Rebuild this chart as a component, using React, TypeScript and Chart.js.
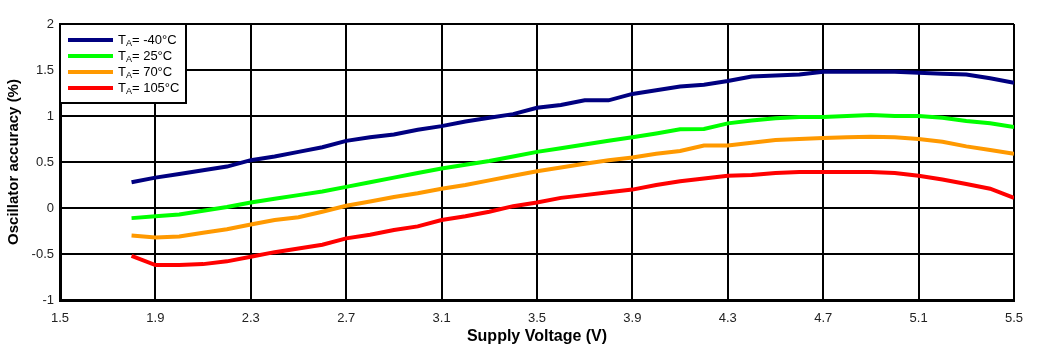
import React, { useEffect, useRef } from "react";
import { Chart, registerables } from "chart.js";
Chart.register(...registerables);

const voltages = [1.8, 1.9, 2.0, 2.1, 2.2, 2.3, 2.4, 2.5, 2.6, 2.7, 2.8, 2.9, 3.0, 3.1, 3.2, 3.3, 3.4, 3.5, 3.6, 3.7, 3.8, 3.9, 4.0, 4.1, 4.2, 4.3, 4.4, 4.5, 4.6, 4.7, 4.8, 4.9, 5.0, 5.1, 5.2, 5.3, 5.4, 5.5];
const accM40 = [0.28, 0.33, 0.37, 0.41, 0.45, 0.52, 0.56, 0.61, 0.66, 0.73, 0.77, 0.80, 0.85, 0.89, 0.94, 0.98, 1.02, 1.09, 1.12, 1.17, 1.17, 1.24, 1.28, 1.32, 1.34, 1.38, 1.43, 1.44, 1.45, 1.48, 1.48, 1.48, 1.48, 1.47, 1.46, 1.45, 1.41, 1.36];
const acc25 = [-0.11, -0.09, -0.07, -0.03, 0.01, 0.06, 0.10, 0.14, 0.18, 0.23, 0.28, 0.33, 0.38, 0.43, 0.47, 0.51, 0.56, 0.61, 0.65, 0.69, 0.73, 0.77, 0.81, 0.855, 0.86, 0.92, 0.95, 0.975, 0.99, 0.99, 1.00, 1.01, 1.00, 1.00, 0.98, 0.945, 0.92, 0.88];
const acc70 = [-0.30, -0.32, -0.31, -0.27, -0.23, -0.18, -0.13, -0.10, -0.04, 0.025, 0.07, 0.12, 0.16, 0.21, 0.25, 0.30, 0.35, 0.40, 0.44, 0.48, 0.52, 0.55, 0.59, 0.62, 0.68, 0.68, 0.71, 0.74, 0.75, 0.76, 0.77, 0.775, 0.77, 0.75, 0.72, 0.67, 0.63, 0.59];
const acc105 = [-0.52, -0.62, -0.62, -0.61, -0.58, -0.53, -0.48, -0.44, -0.40, -0.33, -0.29, -0.24, -0.20, -0.13, -0.09, -0.04, 0.02, 0.06, 0.11, 0.14, 0.17, 0.20, 0.25, 0.29, 0.32, 0.35, 0.36, 0.38, 0.39, 0.39, 0.39, 0.39, 0.38, 0.35, 0.31, 0.26, 0.21, 0.11];

const seriesLabels = ["-40°C", "25°C", "70°C", "105°C"];
const seriesColors = ["#000080", "#00ff00", "#ff9900", "#ff0000"];
const seriesValues = [accM40, acc25, acc70, acc105];

const xTicks = [1.5, 1.9, 2.3, 2.7, 3.1, 3.5, 3.9, 4.3, 4.7, 5.1, 5.5];
const yTicks = [-1, -0.5, 0, 0.5, 1, 1.5, 2];

const legendPlugin = {
  id: "customLegend",
  afterDraw(chart: any) {
    const { ctx, chartArea } = chart;
    const left = chartArea.left;
    const top = chartArea.top;
    ctx.save();
    ctx.fillStyle = "#ffffff";
    ctx.fillRect(left, top, 126, 79);
    ctx.strokeStyle = "#000000";
    ctx.lineWidth = 2;
    ctx.strokeRect(left, top, 126, 79);
    seriesLabels.forEach((lab, i) => {
      const y = top + 16 + i * 16;
      ctx.strokeStyle = seriesColors[i];
      ctx.lineWidth = 4;
      ctx.beginPath();
      ctx.moveTo(left + 8, y);
      ctx.lineTo(left + 53, y);
      ctx.stroke();
      ctx.fillStyle = "#000000";
      ctx.textBaseline = "middle";
      ctx.textAlign = "left";
      ctx.font = "13px 'Liberation Sans', Arial, sans-serif";
      let x = left + 58;
      ctx.fillText("T", x, y);
      x += ctx.measureText("T").width;
      ctx.font = "9px 'Liberation Sans', Arial, sans-serif";
      ctx.fillText("A", x, y + 4);
      x += ctx.measureText("A").width;
      ctx.font = "13px 'Liberation Sans', Arial, sans-serif";
      ctx.fillText("= " + lab, x, y);
    });
    ctx.restore();
  },
};

export default function App() {
  const ref = useRef<HTMLCanvasElement | null>(null);
  useEffect(() => {
    if (!ref.current) return;
    const chart = new Chart(ref.current, {
      type: "line",
      data: {
        datasets: seriesValues.map((vals, i) => ({
          label: "TA= " + seriesLabels[i],
          data: voltages.map((v, j) => ({ x: v, y: vals[j] })),
          borderColor: seriesColors[i],
          backgroundColor: seriesColors[i],
          borderWidth: 4,
          pointRadius: 0,
          tension: 0,
        })),
      },
      options: {
        animation: false,
        responsive: true,
        maintainAspectRatio: false,
        layout: { padding: { top: 24, right: 27, left: 0, bottom: 0 } },
        plugins: { legend: { display: false }, tooltip: { enabled: false } },
        scales: {
          x: {
            type: "linear",
            min: 1.5,
            max: 5.5,
            afterBuildTicks: (s: any) => {
              s.ticks = xTicks.map((v) => ({ value: v }));
            },
            afterFit: (s: any) => {
              s.height = 53;
            },
            ticks: {
              callback: (v: any) => Number(v).toFixed(1),
              color: "#222",
              font: { family: "'Liberation Sans', Arial", size: 13 },
              padding: 11,
              maxRotation: 0,
            },
            grid: { color: "#000", lineWidth: 2, drawTicks: false },
            border: { color: "#000", width: 3 },
            title: {
              display: true,
              text: "Supply Voltage (V)",
              color: "#000",
              font: { family: "'Liberation Sans', Arial", size: 16, weight: "bold" },
              padding: { top: 0, bottom: 7 },
            },
          },
          y: {
            type: "linear",
            min: -1,
            max: 2,
            afterBuildTicks: (s: any) => {
              s.ticks = yTicks.map((v) => ({ value: v }));
            },
            afterFit: (s: any) => {
              s.width = 60;
            },
            ticks: {
              callback: (v: any) => String(v),
              color: "#222",
              font: { family: "'Liberation Sans', Arial", size: 13 },
              padding: 6,
            },
            grid: { color: "#000", lineWidth: 2, drawTicks: false },
            border: { color: "#000", width: 3 },
            title: {
              display: true,
              text: "Oscillator accuracy (%)",
              color: "#000",
              font: { family: "'Liberation Sans', Arial", size: 15, weight: "bold" },
              padding: { top: 5, bottom: 0 },
            },
          },
        },
      },
      plugins: [legendPlugin],
    } as any);
    return () => chart.destroy();
  }, []);
  return (
    <div style={{ position: "fixed", left: 0, top: 0, width: 1041, height: 353, background: "#fff" }}>
      <canvas ref={ref} />
    </div>
  );
}
